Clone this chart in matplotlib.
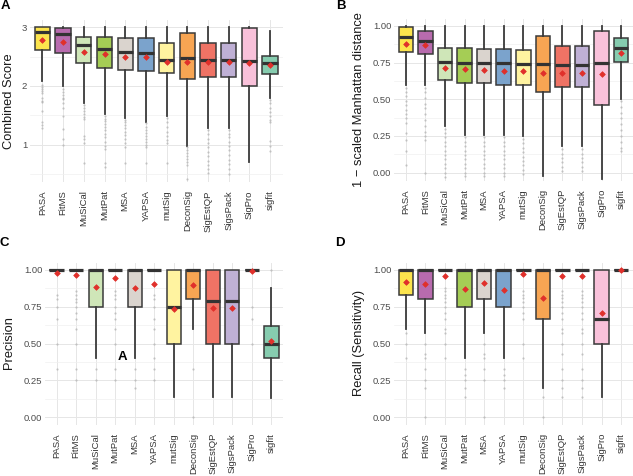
import matplotlib
matplotlib.use("Agg")
import matplotlib.pyplot as plt
from matplotlib.ticker import MultipleLocator

plt.rcParams['font.family'] = ['Liberation Sans', 'DejaVu Sans']

tools = ["PASA", "FitMS", "MuSiCal", "MutPat", "MSA", "YAPSA", "mutSig",
         "DeconSig", "SigEstQP", "SigsPack", "SigPro", "sigfit"]
colors = ["#FCE44D", "#B86BAE", "#CFE6B8", "#A5CD55", "#DAD4CE", "#7BA3CC",
          "#FFF3A0", "#F7A553", "#EF7365", "#BFB0D5", "#F9C1DA", "#86CCAF"]

# A: combined score
score_q1 = [2.61, 2.57, 2.39, 2.31, 2.27, 2.25, 2.22, 2.12, 2.16, 2.16, 2.00, 2.21]
score_med = [2.92, 2.89, 2.69, 2.63, 2.58, 2.57, 2.44, 2.48, 2.44, 2.44, 2.43, 2.39]
score_q3 = [3.00, 2.99, 2.83, 2.83, 2.82, 2.82, 2.73, 2.91, 2.74, 2.74, 2.98, 2.51]
score_lo = [2.08, 2.00, 1.70, 1.52, 1.45, 1.38, 1.49, 0.98, 1.29, 1.29, 0.70, 1.80]
score_hi = [3.0, 3.0, 3.0, 3.0, 3.0, 3.0, 3.0, 3.0, 3.0, 3.0, 3.0, 2.93]
score_mean = [2.79, 2.75, 2.58, 2.54, 2.50, 2.49, 2.41, 2.40, 2.40, 2.40, 2.39, 2.36]
score_out = [
    [2.02, 1.98, 1.95, 1.92, 1.88, 1.80, 1.75, 1.72, 1.57, 1.38, 1.33, 1.29],
    [1.95, 1.90, 1.85, 1.80, 1.77, 1.70, 1.62, 1.49, 1.26, 1.09, 1.00],
    [1.68, 1.62, 1.58, 1.52, 1.47, 1.43, 1.15, 1.10, 1.03, 0.69],
    [1.48, 1.44, 1.40, 1.35, 1.30, 1.25, 1.18, 1.12, 1.05, 0.98, 0.93, 0.69, 0.61],
    [1.42, 1.38, 1.33, 1.28, 1.22, 1.16, 1.10, 1.02, 0.95, 0.69],
    [1.36, 1.30, 1.25, 1.20, 1.15, 1.10, 1.05, 1.00, 0.95, 0.69],
    [1.45, 1.38, 1.30, 1.22, 1.15, 1.08, 1.03, 0.69],
    [0.95, 0.90, 0.85, 0.80, 0.75, 0.70, 0.65, 0.41],
    [1.25, 1.18, 1.10, 1.02, 0.95, 0.88, 0.80, 0.72, 0.65, 0.58, 0.52],
    [1.25, 1.18, 1.12, 1.04, 0.97, 0.90, 0.82, 0.74, 0.66, 0.58, 0.50],
    [],
    [1.76, 1.70, 1.62, 1.55, 1.48, 1.42, 1.38, 1.06, 0.98, 0.89],
]

# B: 1 - scaled Manhattan distance
manh_q1 = [0.825, 0.81, 0.63, 0.614, 0.61, 0.60, 0.598, 0.55, 0.587, 0.587, 0.46, 0.755]
manh_med = [0.925, 0.90, 0.757, 0.75, 0.75, 0.746, 0.739, 0.744, 0.732, 0.732, 0.746, 0.848]
manh_q3 = [0.99, 0.966, 0.85, 0.85, 0.846, 0.846, 0.834, 0.932, 0.862, 0.862, 0.966, 0.918]
manh_lo = [0.60, 0.60, 0.32, 0.26, 0.26, 0.26, 0.25, -0.02, 0.18, 0.18, -0.04, 0.505]
manh_hi = [1.0, 1.0, 1.0, 1.0, 1.0, 1.0, 1.0, 1.0, 1.0, 1.0, 1.0, 1.0]
manh_mean = [0.877, 0.87, 0.716, 0.705, 0.70, 0.693, 0.69, 0.678, 0.682, 0.682, 0.67, 0.818]
manh_out = [
    [0.58, 0.55, 0.52, 0.49, 0.46, 0.43, 0.40, 0.37, 0.34, 0.27, 0.22, 0.15, 0.05],
    [0.58, 0.55, 0.51, 0.47, 0.44, 0.40, 0.36, 0.32, 0.28, 0.25, 0.22, 0.0],
    [0.30, 0.27, 0.24, 0.21, 0.18, 0.15, 0.12, 0.09, 0.06, 0.03, 0.0, -0.03],
    [0.24, 0.21, 0.18, 0.15, 0.12, 0.09, 0.06, 0.03, 0.0, -0.02],
    [0.24, 0.21, 0.18, 0.15, 0.12, 0.09, 0.06, 0.03, 0.0, -0.02],
    [0.24, 0.21, 0.18, 0.15, 0.12, 0.09, 0.06, 0.03, 0.0, -0.02],
    [0.23, 0.20, 0.17, 0.14, 0.11, 0.08, 0.05, 0.02, -0.01],
    [],
    [0.16, 0.13, 0.10, 0.07, 0.04, 0.01],
    [0.16, 0.13, 0.10, 0.07, 0.04, 0.01],
    [],
    [0.49, 0.45, 0.41, 0.37, 0.33, 0.29, 0.25, 0.21, 0.17, 0.15],
]

# C: precision
prec_q1 = [1.0, 1.0, 0.75, 1.0, 0.75, 1.0, 0.50, 0.80, 0.50, 0.50, 1.0, 0.40]
prec_med = [1.0, 1.0, 1.0, 1.0, 1.0, 1.0, 0.75, 1.0, 0.79, 0.79, 1.0, 0.50]
prec_q3 = [1.0, 1.0, 1.0, 1.0, 1.0, 1.0, 1.0, 1.0, 1.0, 1.0, 1.0, 0.62]
prec_lo = [1.0, 1.0, 0.40, 1.0, 0.40, 1.0, 0.14, 0.60, 0.14, 0.14, 1.0, 0.13]
prec_hi = [1.0, 1.0, 1.0, 1.0, 1.0, 1.0, 1.0, 1.0, 1.0, 1.0, 1.0, 0.88]
prec_mean = [0.977, 0.964, 0.885, 0.948, 0.875, 0.907, 0.735, 0.90, 0.742, 0.742, 0.995, 0.52]
prec_out = [
    [0.83, 0.80, 0.75, 0.67, 0.50, 0.33],
    [0.86, 0.83, 0.80, 0.78, 0.75, 0.71, 0.67, 0.60, 0.50, 0.33, 0.25],
    [0.33, 0.25],
    [0.86, 0.83, 0.80, 0.75, 0.71, 0.67, 0.60, 0.50, 0.33, 0.25],
    [0.33, 0.25, 0.20],
    [0.83, 0.80, 0.75, 0.67, 0.60, 0.50, 0.40, 0.33, 0.25],
    [],
    [0.33, 0.0],
    [],
    [],
    [0.75, 0.67, 0.50],
    [1.0],
]

# D: recall
rec_q1 = [0.83, 0.80, 1.0, 0.75, 0.80, 0.75, 1.0, 0.665, 1.0, 1.0, 0.50, 1.0]
rec_med = [1.0, 1.0, 1.0, 1.0, 1.0, 1.0, 1.0, 1.0, 1.0, 1.0, 0.665, 1.0]
rec_q3 = [1.0, 1.0, 1.0, 1.0, 1.0, 1.0, 1.0, 1.0, 1.0, 1.0, 1.0, 1.0]
rec_lo = [0.60, 0.57, 1.0, 0.40, 0.57, 0.40, 1.0, 0.20, 1.0, 1.0, 0.14, 1.0]
rec_hi = [1.0, 1.0, 1.0, 1.0, 1.0, 1.0, 1.0, 1.0, 1.0, 1.0, 1.0, 1.0]
rec_mean = [0.92, 0.905, 0.96, 0.87, 0.91, 0.865, 0.975, 0.81, 0.957, 0.957, 0.71, 1.0]
rec_out = [
    [0.57, 0.50, 0.40],
    [0.50, 0.43, 0.40, 0.33, 0.25, 0.20, 0.0],
    [0.88, 0.86, 0.83, 0.81, 0.78, 0.75, 0.71, 0.67, 0.60, 0.57, 0.50, 0.40],
    [0.33, 0.29, 0.25, 0.20, 0.14],
    [0.50, 0.43, 0.40, 0.33, 0.25, 0.0],
    [0.33, 0.29, 0.25, 0.20],
    [0.86, 0.83, 0.81, 0.78, 0.75, 0.71, 0.67, 0.50, 0.40],
    [0.14, 0.0],
    [0.86, 0.83, 0.81, 0.78, 0.75, 0.71, 0.67, 0.60, 0.57, 0.50, 0.43, 0.33, 0.25, 0.20, 0.14],
    [0.86, 0.83, 0.81, 0.78, 0.75, 0.71, 0.67, 0.60, 0.57, 0.50, 0.43, 0.33, 0.25, 0.20, 0.14],
    [],
    [],
]


def panel(ax, q1, med, q3, lo, hi, mean, out, ylim, major, minor, fmt):
    stats = []
    for i in range(len(tools)):
        stats.append(dict(q1=q1[i], med=med[i], q3=q3[i], whislo=lo[i],
                          whishi=hi[i], mean=mean[i], fliers=out[i], label=tools[i]))
    bp = ax.bxp(stats, positions=range(1, len(tools) + 1), widths=0.74,
                patch_artist=True, showcaps=False, showmeans=True,
                boxprops=dict(edgecolor='#3a3a3a', linewidth=1.1),
                medianprops=dict(color='#333333', linewidth=2.3, solid_capstyle='butt'),
                whiskerprops=dict(color='#3a3a3a', linewidth=1.3),
                flierprops=dict(marker='o', markersize=1.6, markerfacecolor='#a8a8a8',
                                markeredgecolor='none', alpha=0.6),
                meanprops=dict(marker='D', markersize=2.9, markerfacecolor='#e0302b',
                               markeredgecolor='#e0302b', markeredgewidth=0.5))
    for patch, c in zip(bp['boxes'], colors):
        patch.set_facecolor(c)
    ax.set_xlim(0.4, len(tools) + 0.6)
    ax.set_ylim(*ylim)
    ax.yaxis.set_major_locator(MultipleLocator(major))
    ax.yaxis.set_minor_locator(MultipleLocator(minor))
    ax.yaxis.set_major_formatter(fmt)
    ax.set_xticks(range(1, len(tools) + 1))
    ax.set_xticklabels(tools, rotation=90, fontsize=6.8, color='#333333')
    ax.tick_params(axis='y', labelsize=6.8, labelcolor='#4d4d4d', length=0, which='both', pad=2)
    ax.tick_params(axis='x', length=0, pad=6)
    ax.grid(True, which='major', color='#e6e6e6', linewidth=0.7)
    ax.grid(True, which='minor', axis='y', color='#f0f0f0', linewidth=0.5)
    ax.set_axisbelow(True)
    for s in ax.spines.values():
        s.set_visible(False)


W, H = 633, 476
fig = plt.figure(figsize=(W / 100, H / 100), dpi=100)

def px_axes(left, right, top, bottom):
    return fig.add_axes([left / W, 1 - bottom / H, (right - left) / W, (bottom - top) / H])

axA = px_axes(30, 282.5, 20, 182)
axB = px_axes(394, 633, 19.4, 180.7)
axC = px_axes(45, 283, 262.6, 424.7)
axD = px_axes(394, 633, 262.6, 424.7)

panel(axA, score_q1, score_med, score_q3, score_lo, score_hi, score_mean, score_out,
      (0.36, 3.125), 1, 0.5, lambda v, p: f"{v:g}")
panel(axB, manh_q1, manh_med, manh_q3, manh_lo, manh_hi, manh_mean, manh_out,
      (-0.055, 1.045), 0.25, 0.125, lambda v, p: f"{v:.2f}")
panel(axC, prec_q1, prec_med, prec_q3, prec_lo, prec_hi, prec_mean, prec_out,
      (-0.05, 1.05), 0.25, 0.125, lambda v, p: f"{v:.2f}")
panel(axD, rec_q1, rec_med, rec_q3, rec_lo, rec_hi, rec_mean, rec_out,
      (-0.05, 1.05), 0.25, 0.125, lambda v, p: f"{v:.2f}")

ylab = dict(rotation=90, fontsize=9.3, ha='center', va='center', color='#1a1a1a')
fig.text(9 / W, 1 - 101 / H, "Combined Score", **ylab)
fig.text(359 / W, 1 - 100 / H, "1 \u2212 scaled Manhattan distance", **ylab)
fig.text(9 / W, 1 - 343 / H, "Precision", **ylab)
fig.text(359 / W, 1 - 343 / H, "Recall (Sensitivity)", **ylab)

lab = dict(fontsize=9.5, fontweight='bold', ha='center', va='center')
fig.text(5 / W, 1 - 6 / H, "A", **lab)
fig.text(341 / W, 1 - 6 / H, "B", **lab)
fig.text(4 / W, 1 - 243 / H, "C", **lab)
fig.text(340 / W, 1 - 243 / H, "D", **lab)
fig.text(122 / W, 1 - 357 / H, "A", **lab)

fig.savefig("out.png", dpi=100)
